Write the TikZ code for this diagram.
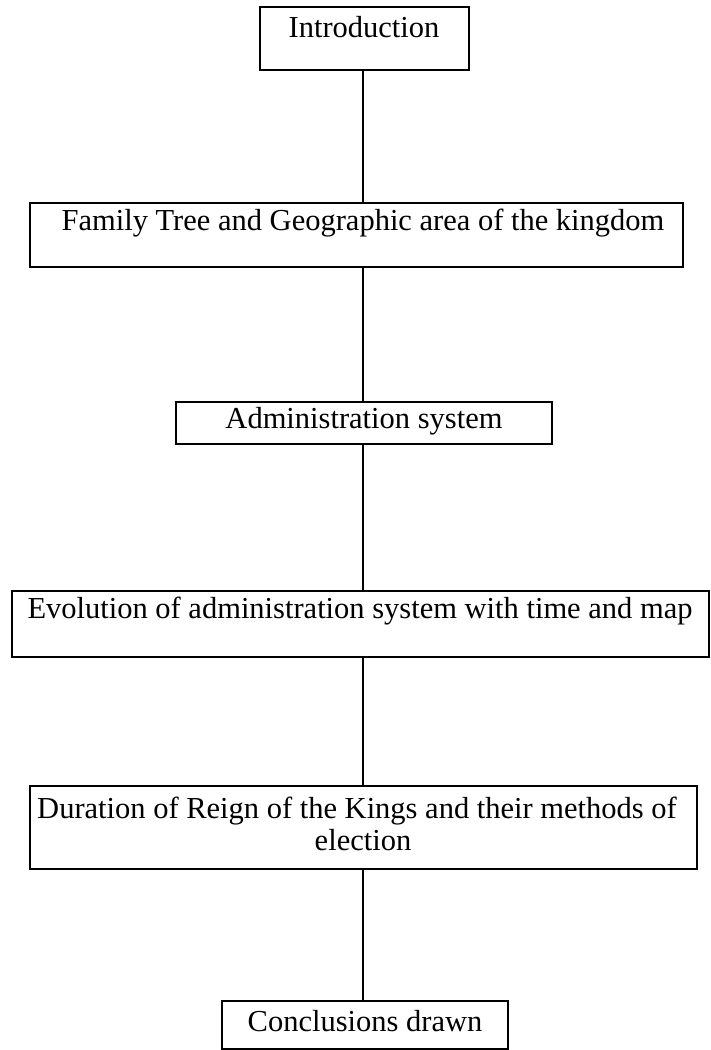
\documentclass[tikz,border=0pt]{standalone}
\usepackage{fontspec}
\setmainfont{Liberation Serif}
\begin{document}
\begin{tikzpicture}[x=1pt,y=-1pt,
	flowbox/.style={draw, line width=1.6pt, inner sep=0pt},
	flowtext/.style={anchor=base, inner sep=0pt, font=\fontsize{30.5}{32}\selectfont}]
			\useasboundingbox (0,0) rectangle (711,1050);
			\node[flowbox, minimum width=209pt, minimum height=63pt] (intro) at (364.5,38.5) {};
			\node[flowbox, minimum width=653pt, minimum height=64pt] (family) at (356.5,235) {};
			\node[flowbox, minimum width=376pt, minimum height=42pt] (admin) at (364,423) {};
			\node[flowbox, minimum width=697pt, minimum height=66pt] (evol) at (360.5,624) {};
			\node[flowbox, minimum width=667pt, minimum height=83pt] (reign) at (363.5,827.5) {};
			\node[flowbox, minimum width=286pt, minimum height=48pt] (concl) at (365,1025) {};
			\node[flowtext] (introtxt) at (364,37) {Introduction};
			\node[flowtext] (familytxt) at (363,230) {Family Tree and Geographic area of the kingdom};
			\node[flowtext] (admintxt) at (364,428) {Administration system};
			\node[flowtext] (evoltxt) at (360,618) {Evolution of administration system with time and map};
			\node[flowtext] (reigntxt) at (357,818) {Duration of Reign of the Kings and their methods of};
			\node[flowtext] (reigntxt2) at (363,850) {election};
			\node[flowtext] (concltxt) at (365,1031) {Conclusions drawn};
			\draw[line width=1.3pt] (intro.south -| 363,0) -- (family.north -| 363,0);
			\draw[line width=1.3pt] (family.south -| 363,0) -- (admin.north -| 363,0);
			\draw[line width=1.3pt] (admin.south -| 363,0) -- (evol.north -| 363,0);
			\draw[line width=1.3pt] (evol.south -| 363,0) -- (reign.north -| 363,0);
			\draw[line width=1.3pt] (reign.south -| 363,0) -- (concl.north -| 363,0);
		\end{tikzpicture}
\end{document}
